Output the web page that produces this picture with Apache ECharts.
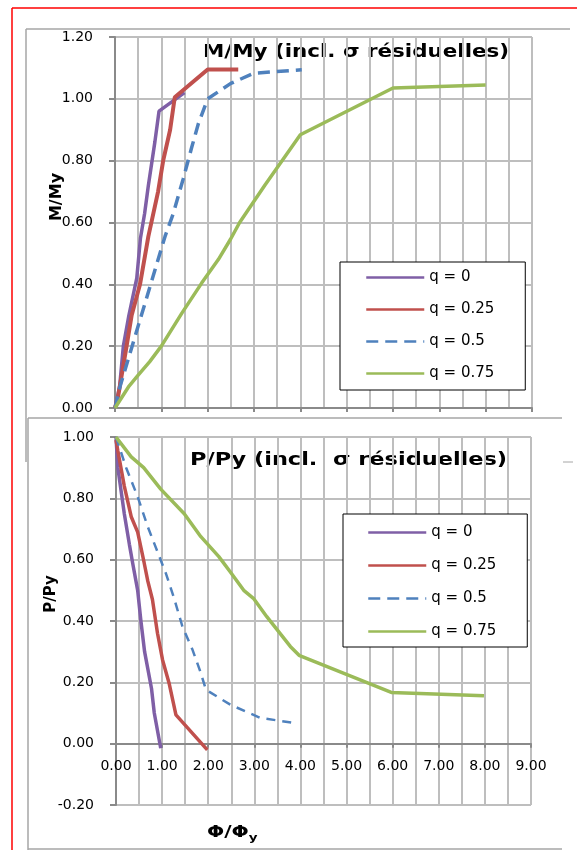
<!DOCTYPE html>
<html>
<head>
<meta charset="utf-8">
<script src="https://cdn.jsdelivr.net/npm/echarts@6/dist/echarts.min.js"></script>
<style>
  html, body { margin: 0; padding: 0; background: #fff; }
  #chart { width: 577px; height: 850px; }
</style>
</head>
<body>
<div id="chart"></div>
<script>
// M/My en fonction de Phi/Phiy
var mq0 = [[0, 0], [0.1, 0.07], [0.18, 0.2], [0.3, 0.3], [0.47, 0.42], [0.55, 0.55], [0.64, 0.63], [0.72, 0.72], [0.86, 0.86], [0.95, 0.96], [1.5, 1.02]];
var mq25 = [[0, 0], [0.07, 0.04], [0.25, 0.2], [0.36, 0.3], [0.54, 0.4], [0.72, 0.555], [0.93, 0.7], [1.04, 0.8], [1.19, 0.9], [1.29, 1.005], [2.0, 1.095], [2.66, 1.095]];
var mq50 = [[0, 0], [0.11, 0.07], [0.37, 0.2], [0.57, 0.3], [0.77, 0.4], [1.08, 0.555], [1.26, 0.63], [1.47, 0.74], [1.65, 0.84], [1.8, 0.92], [2.0, 1.0], [2.5, 1.05], [3.0, 1.083], [4.03, 1.094]];
var mq75 = [[0, 0], [0.29, 0.068], [0.5, 0.106], [0.75, 0.15], [1.0, 0.2], [1.44, 0.306], [1.87, 0.404], [2.23, 0.48], [2.49, 0.545], [2.69, 0.6], [3.23, 0.72], [4.0, 0.884], [6.0, 1.035], [8.0, 1.045]];

// P/Py en fonction de Phi/Phiy
var pq0 = [[0, 1.0], [0.04, 0.9], [0.18, 0.75], [0.29, 0.65], [0.36, 0.59], [0.47, 0.5], [0.54, 0.4], [0.62, 0.3], [0.77, 0.18], [0.83, 0.1], [0.97, -0.015]];
var pq25 = [[0, 0.99], [0.04, 0.955], [0.18, 0.84], [0.33, 0.74], [0.47, 0.69], [0.61, 0.59], [0.69, 0.53], [0.79, 0.47], [0.9, 0.36], [1.01, 0.273], [1.15, 0.198], [1.3, 0.094], [1.98, -0.02]];
var pq50 = [[0, 1.0], [0.22, 0.9], [0.47, 0.805], [0.69, 0.707], [0.94, 0.61], [1.08, 0.556], [1.26, 0.474], [1.44, 0.382], [1.66, 0.306], [1.84, 0.23], [1.95, 0.176], [2.48, 0.127], [3.13, 0.084], [3.85, 0.068]];
var pq75 = [[0, 1.0], [0.33, 0.935], [0.6, 0.9], [0.97, 0.83], [1.48, 0.75], [1.84, 0.675], [2.23, 0.61], [2.48, 0.56], [2.77, 0.5], [2.98, 0.474], [3.27, 0.414], [3.78, 0.317], [3.97, 0.288], [5.97, 0.167], [7.98, 0.156]];

var names = ['q = 0', 'q = 0.25', 'q = 0.5', 'q = 0.75'];
var colors = ['#7F5FA6', '#C0504D', '#4F81BD', '#9BBB59'];

var font = 'DejaVu Sans';
var gridColor = '#BEBEBE';
var axisColor = '#8A8A8A';

function fmt(v) {
    if (Math.abs(v) < 1e-9) v = 0;
    return v.toFixed(2);
}

// offset: remonte l'axe x jusqu'a la ligne y = 0 du graphique du bas
function xAxisCfg(gridIndex, showLabel, offset) {
    return {
        type: 'value',
        gridIndex: gridIndex,
        position: 'bottom',
        offset: offset,
        min: 0,
        max: 9,
        interval: 1,
        axisLine: { show: true, onZero: false, lineStyle: { color: axisColor, width: 2 } },
        axisTick: { show: true, length: 4, lineStyle: { color: axisColor, width: 2 } },
        minorTick: { show: false, splitNumber: 2 },
        splitLine: { show: true, lineStyle: { color: gridColor, width: 2 } },
        minorSplitLine: { show: true, lineStyle: { color: gridColor, width: 2 } },
        axisLabel: {
            show: showLabel, margin: 16, formatter: fmt,
            fontFamily: font, fontSize: 14, color: '#000'
        }
    };
}

function yAxisCfg(gridIndex, min, max) {
    return {
        type: 'value',
        gridIndex: gridIndex,
        min: min,
        max: max,
        interval: 0.2,
        axisLine: { show: true, onZero: false, lineStyle: { color: axisColor, width: 2 } },
        axisTick: { show: true, length: 6, lineStyle: { color: axisColor, width: 2 } },
        splitLine: { show: true, lineStyle: { color: gridColor, width: 2 } },
        axisLabel: {
            margin: 22, formatter: fmt,
            fontFamily: font, fontSize: 14, color: '#000'
        }
    };
}

function makeSeries(name, data, idx, color, width, dash) {
    return {
        name: name,
        type: 'line',
        xAxisIndex: idx,
        yAxisIndex: idx,
        data: data,
        symbol: 'none',
        silent: true,
        color: color,
        lineStyle: { color: color, width: width, type: dash || 'solid', cap: 'butt' },
        itemStyle: { color: color },
        emphasis: { disabled: true }
    };
}

function legendCfg(left, top, padding, gap) {
    return {
        orient: 'vertical',
        left: left,
        top: top,
        padding: padding,
        itemGap: gap,
        itemWidth: 58,
        itemHeight: 14,
        backgroundColor: '#fff',
        borderColor: '#000',
        borderWidth: 1,
        borderRadius: 0,
        selectedMode: false,
        data: names,
        lineStyle: { width: 2.5 },
        itemStyle: { opacity: 0 },
        textStyle: { fontFamily: font, fontSize: 15, color: '#000' }
    };
}

// texte gras etire horizontalement comme dans l'original
function boldText(text, x, y, size, sx) {
    return {
        type: 'text', x: x, y: y, scaleX: sx,
        style: { text: text, fontFamily: font, fontSize: size, fontWeight: 'bold', fill: '#000', textAlign: 'left', textVerticalAlign: 'top' }
    };
}

var chart = echarts.init(document.getElementById('chart'), null, { renderer: 'canvas' });
chart.setOption({
    animation: false,
    backgroundColor: '#fff',
    grid: [
        { left: 115, top: 37, width: 417, height: 371, containLabel: false },
        { left: 116, top: 437, width: 415, height: 368, containLabel: false }
    ],
    xAxis: [xAxisCfg(0, false, 0), xAxisCfg(1, true, -368 / 6)],
    yAxis: [yAxisCfg(0, 0, 1.2), yAxisCfg(1, -0.2, 1.0)],
    legend: [
        legendCfg(340, 262, [8, 31, 9, 25], 17),
        legendCfg(343, 514, [11, 31, 8, 24], 18)
    ],
    graphic: [
        // cadre rouge
        { type: 'line', shape: { x1: 12, y1: 8, x2: 12, y2: 850 }, style: { stroke: '#FF0000', lineWidth: 1.5 } },
        { type: 'line', shape: { x1: 12, y1: 8, x2: 577, y2: 8 }, style: { stroke: '#FF0000', lineWidth: 1.5 } },
        // cadres gris des deux graphiques
        { type: 'line', shape: { x1: 26, y1: 29, x2: 570, y2: 29 }, style: { stroke: '#A6A6A6', lineWidth: 1.5 } },
        { type: 'line', shape: { x1: 26, y1: 29, x2: 26, y2: 462 }, style: { stroke: '#A6A6A6', lineWidth: 1.5 } },
        { type: 'line', shape: { x1: 28, y1: 418, x2: 562, y2: 418 }, style: { stroke: '#A6A6A6', lineWidth: 1.5 } },
        { type: 'line', shape: { x1: 28, y1: 418, x2: 28, y2: 850 }, style: { stroke: '#A6A6A6', lineWidth: 1.5 } },
        { type: 'line', shape: { x1: 28, y1: 849, x2: 562, y2: 849 }, style: { stroke: '#A6A6A6', lineWidth: 1.5 } },
        { type: 'line', shape: { x1: 563, y1: 462, x2: 573, y2: 462 }, style: { stroke: '#A6A6A6', lineWidth: 1 } },
        // titres
        boldText('M/My (incl. σ résiduelles)', 203, 44, 17, 1.26),
        boldText('P/Py (incl.  σ résiduelles)', 190, 452, 17, 1.32),
        {
            type: 'text', x: 207, y: 823, scaleX: 1.35,
            style: {
                text: '{a|Φ/Φ}{b|y}',
                textAlign: 'left', textVerticalAlign: 'top',
                rich: {
                    a: { fontFamily: font, fontSize: 15, fontWeight: 'bold', fill: '#000', lineHeight: 20, verticalAlign: 'middle' },
                    b: { fontFamily: font, fontSize: 10, fontWeight: 'bold', fill: '#000', lineHeight: 20, verticalAlign: 'bottom', padding: [8, 0, 0, 0] }
                }
            }
        },
        // titres des axes y
        {
            type: 'text', x: 57, y: 197, rotation: Math.PI / 2,
            style: { text: 'M/My', fontFamily: font, fontSize: 16, fontWeight: 'bold', fill: '#000', textAlign: 'center', textVerticalAlign: 'middle' }
        },
        {
            type: 'text', x: 51, y: 594, rotation: Math.PI / 2,
            style: { text: 'P/Py', fontFamily: font, fontSize: 15, fontWeight: 'bold', fill: '#000', textAlign: 'center', textVerticalAlign: 'middle' }
        }
    ],
    series: [
        makeSeries(names[0], mq0, 0, colors[0], 3.5),
        makeSeries(names[1], mq25, 0, colors[1], 4),
        makeSeries(names[2], mq50, 0, colors[2], 3.5, [12, 7]),
        makeSeries(names[3], mq75, 0, colors[3], 3.5),
        makeSeries(names[0], pq0, 1, colors[0], 3.5),
        makeSeries(names[1], pq25, 1, colors[1], 3.5),
        makeSeries(names[2], pq50, 1, colors[2], 2.5, [9, 7]),
        makeSeries(names[3], pq75, 1, colors[3], 3.5)
    ]
});
</script>
</body>
</html>
